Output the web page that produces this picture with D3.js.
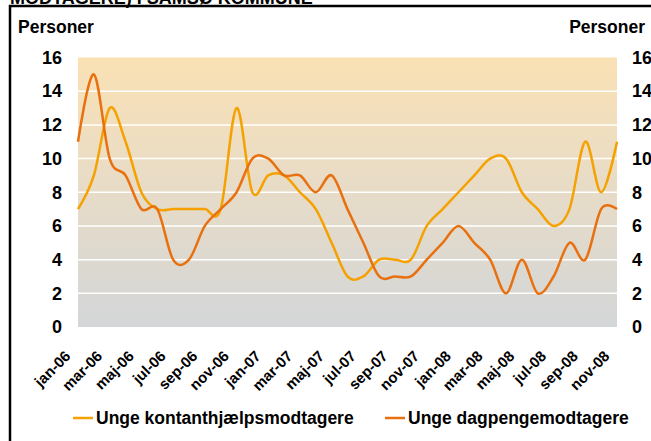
<!DOCTYPE html>
<html>
<head>
<meta charset="utf-8">
<script src="https://cdn.jsdelivr.net/npm/d3@7"></script>
<style>
  body { margin: 0; background: #fff; }
  text { font-family: "Liberation Sans", Arial, sans-serif; font-weight: bold; fill: #000; }
</style>
</head>
<body>
<svg id="chart" width="651" height="441"></svg>
<script>
var months = ["jan-06","feb-06","mar-06","apr-06","maj-06","jun-06","jul-06","aug-06","sep-06","okt-06","nov-06","dec-06",
              "jan-07","feb-07","mar-07","apr-07","maj-07","jun-07","jul-07","aug-07","sep-07","okt-07","nov-07","dec-07",
              "jan-08","feb-08","mar-08","apr-08","maj-08","jun-08","jul-08","aug-08","sep-08","okt-08","nov-08"];

var kontant = [7,9,13,11,8,7,7,7,7,7,13,8, 9,9,8,7,5,3,3,4,4,4,6,7, 8,9,10,10,8,7,6,7,11,8,11];
var dagpenge = [11,15,10,9,7,7,4,4,6,7,8,10, 10,9,9,8,9,7,5,3,3,3,4,5, 6,5,4,2,4,2,3,5,4,7,7];

var yTicks = [0,2,4,6,8,10,12,14,16];

var seriesNames = ["Unge kontanthjælpsmodtagere", "Unge dagpengemodtagere"];
var seriesColors = ["#F5A100", "#E8700F"];

var svg = d3.select("#chart"),
    width = +svg.attr("width"),
    height = +svg.attr("height");

var pLeft = 78, pRight = 617, pTop = 57.5, pBottom = 327;

var x = d3.scalePoint().domain(months).range([pLeft, pRight]);
var y = d3.scaleLinear().domain([0, 16]).range([pBottom, pTop]);

// title (cut off at top edge)
svg.append("text")
    .attr("x", 10)
    .attr("y", 3.5)
    .style("font-size", "18px")
    .text("MODTAGERE) I SAMSØ KOMMUNE");

// frame
svg.append("path")
    .attr("d", "M10," + height + "V6H" + width)
    .attr("fill", "none")
    .attr("stroke", "#000")
    .attr("stroke-width", 2.5);

// background gradient
var grad = svg.append("defs").append("linearGradient")
    .attr("id", "bg")
    .attr("x1", 0).attr("y1", 0).attr("x2", 0).attr("y2", 1);
grad.append("stop").attr("offset", "0%").attr("stop-color", "#FAE1B4");
grad.append("stop").attr("offset", "45%").attr("stop-color", "#E9DCC6");
grad.append("stop").attr("offset", "100%").attr("stop-color", "#D3D6D8");

svg.append("rect")
    .attr("x", pLeft)
    .attr("y", pTop)
    .attr("width", pRight - pLeft)
    .attr("height", pBottom - pTop)
    .attr("fill", "url(#bg)");

// grid
svg.append("g")
    .selectAll("line")
    .data(yTicks.filter(function(d) { return d > 0 && d < 16; }))
    .enter().append("line")
    .attr("x1", pLeft)
    .attr("x2", pRight)
    .attr("y1", function(d) { return y(d); })
    .attr("y2", function(d) { return y(d); })
    .attr("stroke", "#fff")
    .attr("stroke-width", 1.5);

// y axes
var yl = svg.append("g")
    .attr("transform", "translate(62,0)")
    .call(d3.axisLeft(y).tickValues(yTicks).tickSize(0).tickPadding(0));
var yr = svg.append("g")
    .attr("transform", "translate(632,0)")
    .call(d3.axisRight(y).tickValues(yTicks).tickSize(0).tickPadding(0));
[yl, yr].forEach(function(g) {
    g.select(".domain").remove();
    g.selectAll("text")
        .style("font-size", "18px")
        .style("font-family", "Liberation Sans, Arial, sans-serif")
        .attr("fill", "#000");
});

svg.append("text").attr("x", 18).attr("y", 33).style("font-size", "17.5px").text("Personer");
svg.append("text").attr("x", 645).attr("y", 33).attr("text-anchor", "end").style("font-size", "17.5px").text("Personer");

// x axis
var xa = svg.append("g")
    .attr("transform", "translate(0," + pBottom + ")")
    .call(d3.axisBottom(x)
        .tickValues(months.filter(function(d, i) { return i % 2 === 0; }))
        .tickSize(0));
xa.select(".domain").remove();
xa.selectAll("text")
    .style("font-size", "15px")
    .style("font-family", "Liberation Sans, Arial, sans-serif")
    .attr("fill", "#000")
    .attr("text-anchor", "end")
    .attr("dy", null)
    .attr("y", null)
    .attr("transform", "translate(-7,30) rotate(-45)");

// lines
var line = d3.line()
    .x(function(d, i) { return x(months[i]); })
    .y(function(d) { return y(d); })
    .curve(d3.curveCatmullRom.alpha(0));

[kontant, dagpenge].forEach(function(s, k) {
    svg.append("path")
        .datum(s)
        .attr("fill", "none")
        .attr("stroke", seriesColors[k])
        .attr("stroke-width", 2.5)
        .attr("d", line);
});

// legend
var legX = [73, 385];
seriesNames.forEach(function(n, k) {
    svg.append("line")
        .attr("x1", legX[k]).attr("x2", legX[k] + 20)
        .attr("y1", 418).attr("y2", 418)
        .attr("stroke", seriesColors[k])
        .attr("stroke-width", 2.5);
    svg.append("text")
        .attr("x", legX[k] + 23)
        .attr("y", 424)
        .style("font-size", "17.5px")
        .text(n);
});
</script>
</body>
</html>
